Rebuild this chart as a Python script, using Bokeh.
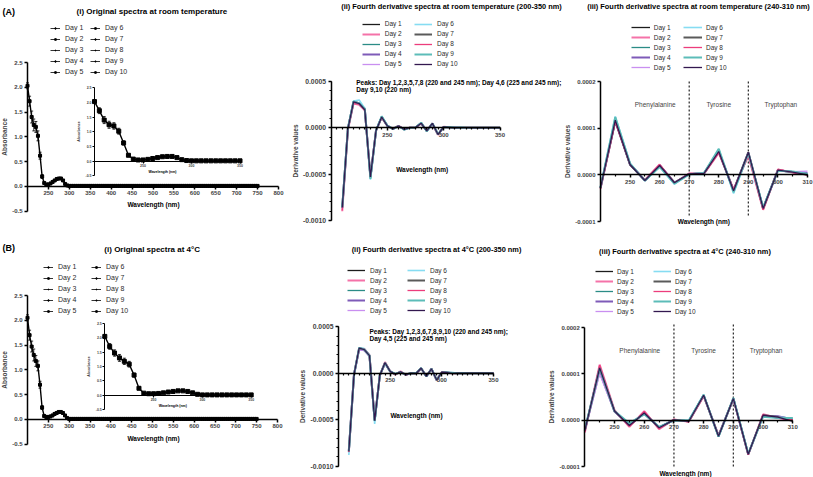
import numpy as np
from bokeh.plotting import figure
from bokeh.models import (ColumnDataSource, Legend, LegendItem, Label, Whisker,
                          TeeHead, FixedTicker, NumeralTickFormatter, Range1d, LinearAxis)
from bokeh.layouts import row, column
from bokeh.embed import file_html
from bokeh.resources import INLINE

FONT = "Liberation Sans"

# ------------------------------------------------------------------ data
days = ["Day 1", "Day 2", "Day 3", "Day 4", "Day 5",
        "Day 6", "Day 7", "Day 8", "Day 9", "Day 10"]

# original UV spectra (mean over days), 200-750 nm every 5 nm
wl_abs = list(range(200, 755, 5))
abs_rt = [
    2.03, 1.72, 1.40, 1.24, 1.20, 1.02, 0.62, 0.20, 0.07, 0.04,
    0.04, 0.06, 0.09, 0.12, 0.15, 0.16, 0.16, 0.12, 0.05, 0.02,
    0.01, 0.01, 0.01, 0.01, 0.01, 0.01, 0.01, 0.01, 0.01, 0.01,
    0.01, 0.01, 0.01, 0.01, 0.01, 0.01, 0.01, 0.01, 0.01, 0.01,
    0.01, 0.01, 0.01, 0.01, 0.01, 0.01, 0.01, 0.01, 0.01, 0.01,
    0.01, 0.01, 0.01, 0.01, 0.01, 0.01, 0.01, 0.01, 0.01, 0.01,
    0.01, 0.01, 0.01, 0.01, 0.01, 0.01, 0.01, 0.01, 0.01, 0.01,
    0.01, 0.01, 0.01, 0.01, 0.01, 0.01, 0.01, 0.01, 0.01, 0.01,
    0.01, 0.01, 0.01, 0.01, 0.01, 0.01, 0.01, 0.01, 0.01, 0.01,
    0.01, 0.01, 0.01, 0.01, 0.01, 0.01, 0.01, 0.01, 0.01, 0.01,
    0.01, 0.01, 0.01, 0.01, 0.01, 0.01, 0.01, 0.01, 0.01, 0.01,
    0.01]
abs_4c = [
    2.05, 1.70, 1.47, 1.30, 1.18, 1.08, 0.70, 0.24, 0.07, 0.05,
    0.05, 0.06, 0.08, 0.11, 0.13, 0.15, 0.15, 0.13, 0.08, 0.03,
    0.01, 0.01, 0.01, 0.01, 0.01, 0.01, 0.01, 0.01, 0.01, 0.01,
    0.01, 0.01, 0.01, 0.01, 0.01, 0.01, 0.01, 0.01, 0.01, 0.01,
    0.01, 0.01, 0.01, 0.01, 0.01, 0.01, 0.01, 0.01, 0.01, 0.01,
    0.01, 0.01, 0.01, 0.01, 0.01, 0.01, 0.01, 0.01, 0.01, 0.01,
    0.01, 0.01, 0.01, 0.01, 0.01, 0.01, 0.01, 0.01, 0.01, 0.01,
    0.01, 0.01, 0.01, 0.01, 0.01, 0.01, 0.01, 0.01, 0.01, 0.01,
    0.01, 0.01, 0.01, 0.01, 0.01, 0.01, 0.01, 0.01, 0.01, 0.01,
    0.01, 0.01, 0.01, 0.01, 0.01, 0.01, 0.01, 0.01, 0.01, 0.01,
    0.01, 0.01, 0.01, 0.01, 0.01, 0.01, 0.01, 0.01, 0.01, 0.01,
    0.01]
# standard deviations, 200-295 nm
sd_rt = [0.06, 0.10, 0.12, 0.12, 0.11, 0.10, 0.07, 0.04, 0.02, 0.01,
         0.01, 0.01, 0.02, 0.02, 0.02, 0.02, 0.02, 0.02, 0.01, 0.01]
sd_4c = [0.06, 0.10, 0.11, 0.12, 0.11, 0.10, 0.07, 0.04, 0.02, 0.01,
         0.01, 0.01, 0.01, 0.02, 0.02, 0.02, 0.02, 0.02, 0.01, 0.01]

# fourth-derivative spectra, 210-350 nm every 5 nm, values in units of 1e-6
wl_d4 = list(range(210, 355, 5))
d4_rt = [
    [-850, -12, 276, 258, 198, -528, -26, 114, 21, -13, 19, -16, 1, 3, 49, -33, 47, -71, 10, 6, 1, 2, 1, 1, 0, 0, 0, 0, 0],
    [-900, -25, 262, 250, 190, -535, -30, 115, 23, -11, 22, -18, 3, 2, 47, -31, 41, -75, 11, 5, 0, 2, 2, 0, 1, 0, 0, 0, 0],
    [-855, -10, 282, 262, 200, -540, -27, 121, 24, -12, 18, -19, 2, 4, 54, -36, 46, -70, 9, 7, 1, 3, 1, 1, 0, 1, 0, 0, 0],
    [-860, -8, 278, 265, 205, -532, -28, 116, 22, -12, 20, -17, 2, 3, 50, -34, 48, -72, 10, 6, 4, 2, 2, 1, 0, 1, 0, 0, 0],
    [-865, -15, 275, 260, 196, -530, -29, 118, 22, -11, 21, -16, 2, 4, 51, -33, 47, -71, 10, 7, 8, 3, 1, 1, 1, 0, 0, 0, 0],
    [-870, -5, 290, 300, 210, -560, -26, 125, 25, -13, 17, -20, 1, 1, 55, -40, 45, -69, 9, 6, 2, 2, 1, 1, 0, 0, 0, 0, 0],
    [-858, -10, 281, 262, 198, -531, -28, 116, 22, -12, 20, -17, 2, 3, 50, -34, 48, -72, 10, 6, 0, 2, 2, 1, 0, 1, 0, 0, 0],
    [-890, -20, 265, 255, 192, -533, -30, 114, 23, -11, 22, -18, 3, 2, 48, -31, 40, -75, 12, 5, 0, 2, 1, 1, 0, 0, 0, 0, 0],
    [-856, -8, 284, 266, 203, -550, -27, 124, 24, -12, 17, -19, 1, 4, 56, -37, 46, -70, 9, 7, 2, 3, 1, 0, 1, 0, 0, 0, 0],
    [-860, -10, 280, 262, 195, -530, -28, 117, 22, -12, 20, -17, 2, 3, 50, -34, 48, -72, 10, 6, 0, 3, 2, 1, 0, 1, 0, 0, 0],
]
d4_4c = [
    [-845, -15, 272, 256, 192, -512, -21, 112, 21, -10, 15, -15, 1, -1, 53, -34, 47, -72, 10, 7, 1, 1, 2, 0, 1, 0, 1, 0, 0],
    [-850, -12, 268, 262, 195, -505, -26, 120, 22, -14, 20, -19, 2, -3, 52, -32, 46, -74, 13, 5, 0, 1, 3, 0, 1, 0, 1, 0, 0],
    [-840, -16, 274, 254, 190, -515, -20, 111, 20, -8, 14, -14, 0, -1, 55, -35, 48, -72, 9, 8, 4, 1, 2, 0, 1, 0, 1, 0, 0],
    [-830, -18, 258, 248, 185, -508, -22, 105, 19, -10, 15, -15, 1, -2, 54, -34, 47, -73, 10, 9, 2, 1, 2, 0, 1, 0, 1, 0, 0],
    [-850, -20, 255, 245, 182, -505, -22, 100, 19, -11, 16, -16, 1, -2, 53, -34, 47, -73, 11, 6, 0, 1, 2, 0, 1, 0, 1, 0, 0],
    [-880, -10, 275, 265, 195, -545, -21, 113, 20, -9, 15, -14, 0, 1, 55, -35, 48, -72, 10, 7, 4, 1, 2, 0, 1, 0, 1, 0, 0],
    [-842, -15, 270, 255, 190, -510, -22, 113, 20, -11, 16, -16, 1, -2, 54, -34, 47, -73, 11, 7, 0, 1, 2, 0, 1, 0, 1, 0, 0],
    [-848, -13, 268, 260, 194, -507, -25, 119, 22, -13, 19, -18, 2, -3, 52, -33, 46, -74, 12, 5, 1, 1, 3, 0, 1, 0, 1, 0, 0],
    [-838, -16, 273, 256, 191, -513, -20, 112, 20, -6, 13, -14, 0, -1, 55, -35, 48, -72, 8, 5, 5, 1, 2, 0, 1, 0, 1, 0, 0],
    [-840, -15, 270, 255, 190, -510, -22, 113, 20, -11, 16, -16, 1, -2, 54, -34, 47, -73, 11, 7, -2, 1, 2, 0, 1, 0, 1, 0, 0],
]

region_names = ["Phenylalanine", "Tyrosine", "Tryptophan"]
region_centers = [258.5, 280, 301]
region_bounds = [270, 290]

titles_A = ["(i)  Original spectra at room temperature",
            "(ii) Fourth derivative spectra at room temperature (200-350 nm)",
            "(iii) Fourth derivative spectra at room temperature (240-310 nm)"]
titles_B = ["(i)  Original spectra at 4\u00b0C",
            "(ii) Fourth derivative spectra at 4\u00b0C (200-350 nm)",
            "(iii) Fourth derivative spectra at 4\u00b0C (240-310 nm)"]
peaks_A = ["Peaks: Day 1,2,3,5,7,8 (220 and 245 nm); Day 4,6 (225 and 245 nm);",
           "Day 9,10 (220 nm)"]
peaks_B = ["Peaks: Day 1,2,3,6,7,8,9,10 (220 and 245 nm);",
           "Day 4,5 (225 and 245 nm)"]

abs_xticks = [250, 300, 350, 400, 450, 500, 550, 600, 650, 700, 750, 800]
abs_yticks = [-0.5, 0.0, 0.5, 1.0, 1.5, 2.0, 2.5]
inset_xticks = [250, 300, 350]
d4_xticks = [250, 300, 350]
d4_yticks = [-0.001, -0.0005, 0.0, 0.0005]
zoom_xticks = [250, 260, 270, 280, 290, 300, 310]
zoom_yticks = [-0.0001, 0.0, 0.0001, 0.0002]

day_colors = ["#1c1c1c", "#f472a8", "#2b8c86", "#7e5bb8", "#c98ff0",
              "#86dcf2", "#5a5a5a", "#ec3d7c", "#5cbcb8", "#33184f"]
day_widths = [1.3, 2.0, 1.3, 2.0, 1.3, 1.6, 2.0, 1.3, 2.0, 1.3]
abs_markers = ["circle", "square", "cross", "circle", "square",
               "square", "circle", "cross", "diamond", "square"]

d4_minor_x = [x for x in range(205, 350, 5) if x % 50 != 0]
d4_minor_y = [round(v * 1e-4, 6) for v in range(-10, 6)]
zoom_minor_x = [245, 255, 265, 275, 285, 295, 305]


# ------------------------------------------------------------------ geometry helpers
class Geo:
    """Maps page pixels to data values; anchors: data value -> page pixel."""
    def __init__(self, xa, xb, pxa, pxb, ytop, ybot, pytop, pybot):
        self.xa, self.pxa = xa, pxa
        self.sx = (pxb - pxa) / (xb - xa)
        self.ytop, self.pytop = ytop, pytop
        self.sy = (pybot - pytop) / (ytop - ybot)

    def x(self, X):
        return self.xa + (X - self.pxa) / self.sx

    def y(self, Y):
        return self.ytop - (Y - self.pytop) / self.sy


def make_fig(fig_left, fig_top, width, height, geo):
    p = figure(width=width, height=height,
               x_range=(geo.x(fig_left), geo.x(fig_left + width)),
               y_range=(geo.y(fig_top + height), geo.y(fig_top)),
               output_backend="svg", toolbar_location=None, min_border=0)
    p.xgrid.visible = False
    p.ygrid.visible = False
    p.outline_line_color = None
    return p


def text(p, g, X, Y, s, size, bold=False, align="center", color="black"):
    p.add_layout(Label(x=g.x(X), y=g.y(Y), text=s, text_font=FONT,
                       text_font_size=f"{size}px",
                       text_font_style="bold" if bold else "normal",
                       text_align=align, text_baseline="middle", text_color=color))


def style_axis(a, ticks, minor, fs, lw, tick_out, label_standoff=2, fmt=None):
    a.ticker = FixedTicker(ticks=ticks, minor_ticks=minor)
    if fmt:
        a.formatter = NumeralTickFormatter(format=fmt)
    a.axis_line_color = "black"
    a.axis_line_width = lw
    a.major_tick_line_color = "black"
    a.major_tick_line_width = lw
    a.major_tick_out = tick_out
    a.major_tick_in = 0
    a.minor_tick_line_color = "black"
    a.minor_tick_line_width = lw * 0.8
    a.minor_tick_out = max(1, tick_out - 1)
    a.minor_tick_in = 0
    a.major_label_text_font = FONT
    a.major_label_text_font_size = f"{fs}px"
    a.major_label_text_font_style = "bold"
    a.major_label_standoff = label_standoff


def set_axes(xa, ya, xbounds, ybounds, xticks, xminor, yticks, yminor, yfmt, xfs, yfs, lw,
             tick_out, ylabel, yl_fs, yl_standoff, label_standoff=2):
    xa.fixed_location = 0
    xa.bounds = xbounds
    ya.fixed_location = xbounds[0]
    ya.bounds = ybounds
    style_axis(xa, xticks, xminor, xfs, lw, tick_out, label_standoff)
    style_axis(ya, yticks, yminor, yfs, lw, tick_out, label_standoff, yfmt)
    ya.axis_label = ylabel
    ya.axis_label_text_font = FONT
    ya.axis_label_text_font_size = f"{yl_fs}px"
    ya.axis_label_text_font_style = "bold"
    ya.axis_label_standoff = yl_standoff


def add_legends(p, fig_left, fig_bottom, items, col_x, row0, pitch, glyph_w, standoff, fs,
                item_h=8, glyph_h=8):
    for ci, its in enumerate([items[:5], items[5:]]):
        bottom = row0 + 4 * pitch + item_h / 2
        leg = Legend(items=its, location=(col_x[ci] - fig_left, fig_bottom - bottom),
                     orientation="vertical", glyph_width=glyph_w, glyph_height=glyph_h,
                     label_height=item_h, spacing=max(0, int(round(pitch - item_h))),
                     padding=0, margin=0, label_standoff=standoff,
                     label_text_font=FONT, label_text_font_size=f"{fs}px",
                     label_text_color="#2b2b2b",
                     border_line_color=None, background_fill_alpha=0)
        p.add_layout(leg)


def draw_spectrum(p, absv, sdv, wl_max, marker_size, rx="default", ry="default"):
    k = len([w for w in wl_abs if w <= wl_max])
    src = ColumnDataSource(data=dict(x=wl_abs[:k], y=absv[:k]))
    n = len(sdv)
    esrc = ColumnDataSource(data=dict(x=wl_abs[:n],
                                      lo=[a - s for a, s in zip(absv[:n], sdv)],
                                      hi=[a + s for a, s in zip(absv[:n], sdv)]))
    p.add_layout(Whisker(base="x", lower="lo", upper="hi", source=esrc, line_color="black",
                         line_width=0.8, x_range_name=rx, y_range_name=ry,
                         lower_head=TeeHead(size=3, line_color="black", line_width=0.8),
                         upper_head=TeeHead(size=3, line_color="black", line_width=0.8)))
    p.line("x", "y", source=src, line_color="black", line_width=1.4,
           x_range_name=rx, y_range_name=ry)
    p.scatter("x", "y", source=src, marker="square", size=marker_size, color="black",
              x_range_name=rx, y_range_name=ry)


def spectra_panel(fig_left, fig_top, width, height, geo, igeo, tag, tag_y, title, title_x,
                  title_y, absv, sdv, leg_cols, leg_row0, xlab_pos, ixlab_pos):
    p = make_fig(fig_left, fig_top, width, height, geo)
    set_axes(p.xaxis[0], p.yaxis[0], (200, 800), (-0.5, 2.5), abs_xticks, [], abs_yticks,
             [], "0.0", 6, 6, 1.5, 3, "Absorbance", 6.5, 1)
    draw_spectrum(p, absv, sdv, 800, 3)

    # inset (200-350 nm) on its own ranges inside the same figure
    p.extra_x_ranges = {"ix": Range1d(igeo.x(fig_left), igeo.x(fig_left + width))}
    p.extra_y_ranges = {"iy": Range1d(igeo.y(fig_top + height), igeo.y(fig_top))}
    ixa = LinearAxis(x_range_name="ix", y_range_name="iy")
    iya = LinearAxis(x_range_name="ix", y_range_name="iy")
    p.add_layout(ixa, "below")
    p.add_layout(iya, "left")
    set_axes(ixa, iya, (200, 350), (-0.5, 2.5), inset_xticks, [], abs_yticks, [], "0.0",
             3.5, 3.5, 1.0, 2, "Absorbance", 3.5, 1, label_standoff=1)
    draw_spectrum(p, absv, sdv, 350, 4, "ix", "iy")

    items = []
    for d, m in zip(days, abs_markers):
        es = ColumnDataSource(data=dict(x=[np.nan], y=[np.nan]))
        r1 = p.line("x", "y", source=es, line_color="#333333", line_width=1)
        r2 = p.scatter("x", "y", source=es, marker=m, size=3, color="black")
        items.append(LegendItem(label=d, renderers=[r1, r2]))
    add_legends(p, fig_left, fig_top + height, items, leg_cols, leg_row0, 10.75, 10, 5, 7,
                glyph_h=4)
    text(p, geo, 2, tag_y, tag, 9, bold=True, align="left")
    text(p, geo, title_x, title_y, title, 8, bold=True)
    text(p, geo, xlab_pos[0], xlab_pos[1], "Wavelength (nm)", 6.5, bold=True)
    text(p, geo, ixlab_pos[0], ixlab_pos[1], "Wavelength (nm)", 3.5, bold=True)
    return p


def deriv_panel(fig_left, fig_top, width, height, geo, xr, yr, series, xticks, xminor,
                yticks, yminor, yfs, title, title_x, title_y, leg_cols, leg_row0, pitch,
                glyph_w, standoff, xlab_pos, peaks=None, peaks_pos=None, region_y=None):
    p = make_fig(fig_left, fig_top, width, height, geo)
    set_axes(p.xaxis[0], p.yaxis[0], xr, yr, xticks, xminor, yticks, yminor, "0.0000",
             6, yfs, 1.5, 3, "Derivative values", 6.5, 1)
    if region_y:
        for xb in region_bounds:
            p.segment(x0=[xb], y0=[geo.y(region_y[0])], x1=[xb], y1=[geo.y(region_y[1])],
                      line_color="#333333", line_width=1.3, line_dash="2 2")
        for nm, xc in zip(region_names, region_centers):
            p.add_layout(Label(x=xc, y=0.00015, text=nm, text_font=FONT,
                               text_font_size="6.5px", text_align="center",
                               text_baseline="middle", text_color="#444444"))
    items = []
    for d, ys, c, w in zip(days, series, day_colors, day_widths):
        xs = [x for x in wl_d4 if xr[0] <= x <= xr[1]]
        yv = [y * 1e-6 for x, y in zip(wl_d4, ys) if xr[0] <= x <= xr[1]]
        r = p.line(xs, yv, line_color=c, line_width=w)
        items.append(LegendItem(label=d, renderers=[r]))
    add_legends(p, fig_left, fig_top + height, items, leg_cols, leg_row0, pitch, glyph_w,
                standoff, 6.5)
    text(p, geo, title_x, title_y, title, 7.4, bold=True)
    text(p, geo, xlab_pos[0], xlab_pos[1], "Wavelength (nm)", 6.5, bold=True)
    if peaks:
        for s, Y in zip(peaks, peaks_pos[1]):
            text(p, geo, peaks_pos[0], Y, s, 6.5, bold=True, align="left")
    return p


# ------------------------------------------------------------------ row A (top 0, height 237)
A_i = spectra_panel(0, 0, 288, 237,
                    Geo(200, 800, 27, 278, 2.5, -0.5, 62, 210.7),
                    Geo(200, 350, 94, 239.5, 2.5, -0.5, 87.3, 175.3),
                    "(A)", 11, titles_A[0], 152.5, 10.7, abs_rt, sd_rt, [50, 90], 28.7,
                    (153, 204), (162, 171))
A_ii = deriv_panel(288, 0, 276, 237, Geo(200, 350, 330.5, 499.5, 0.0005, -0.001, 81, 220),
                   (200, 350), (-0.001, 0.0005), d4_rt,
                   d4_xticks, d4_minor_x, d4_yticks, d4_minor_y, 6.8, titles_A[1], 451, 6,
                   [361.7, 414], 22.3, 10.4, 18, 5, (421.7, 169),
                   peaks=peaks_A, peaks_pos=(355.7, [81.7, 89.3]))
A_iii = deriv_panel(564, 0, 249, 237, Geo(240, 310, 600, 807, 0.0002, -0.0001, 81, 221),
                    (240, 310), (-0.0001, 0.0002), d4_rt,
                    zoom_xticks, zoom_minor_x, zoom_yticks, [], 6, titles_A[2], 698, 6.3,
                    [630.7, 683], 25, 10.5, 19, 4, (703.3, 221), region_y=(81, 215))

# ------------------------------------------------------------------ row B (top 237, height 240)
B_i = spectra_panel(0, 237, 288, 240,
                    Geo(200, 800, 27, 277, 2.5, -0.5, 295, 443.7),
                    Geo(200, 350, 104.3, 250.7, 2.5, -0.5, 323, 409),
                    "(B)", 247, titles_B[0], 152.8, 248.7, abs_4c, sd_4c, [43, 91], 267.7,
                    (153, 438), (172.3, 405.7))
B_ii = deriv_panel(288, 237, 254, 240, Geo(200, 350, 338, 493, 0.0005, -0.001, 326.3, 465.7),
                   (200, 350), (-0.001, 0.0005), d4_4c,
                   d4_xticks, d4_minor_x, d4_yticks, d4_minor_y, 6.8, titles_B[1], 436, 249.3,
                   [347, 407], 270.3, 10, 18, 5, (416, 415),
                   peaks=peaks_B, peaks_pos=(369, [330.7, 337.7]))
B_iii = deriv_panel(542, 237, 271, 240, Geo(240, 310, 584.3, 792.3, 0.0002, -0.0001, 327, 466.3),
                    (240, 310), (-0.0001, 0.0002), d4_4c,
                    zoom_xticks, zoom_minor_x, zoom_yticks, [], 6, titles_B[2], 684.5, 251,
                    [595, 653], 271.3, 10, 18, 4, (685, 473), region_y=(324, 467))

layout = column(row(A_i, A_ii, A_iii), row(B_i, B_ii, B_iii))

open("out.html", "w").write(file_html(layout, INLINE))
